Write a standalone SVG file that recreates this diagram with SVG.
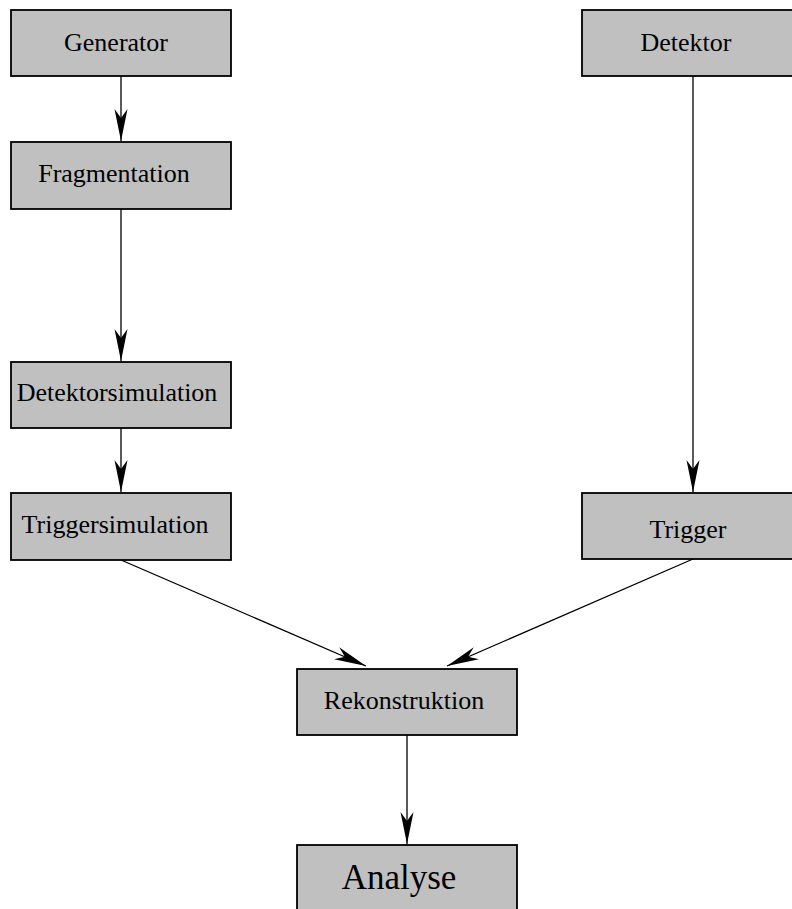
<svg xmlns="http://www.w3.org/2000/svg" width="792" height="909" viewBox="0 0 792 909">
<style>
.box{fill:#c0c0c0;stroke:#000;stroke-width:1.8}
.lbl{font-family:"Liberation Serif","Times New Roman",serif;font-size:26px;fill:#000;text-anchor:middle}
.big{font-size:35px}
.edge{stroke:#000;stroke-width:1.3;fill:none;marker-end:url(#ah)}
</style>
<defs>
<marker id="ah" markerUnits="userSpaceOnUse" markerWidth="34" markerHeight="16" refX="32" refY="8" orient="auto" overflow="visible">
<path d="M0,1.5 L32,8 L0,14.5 L9,8 Z" fill="#000"/>
</marker>
</defs>
<rect width="792" height="909" fill="#fff"/>
<g id="edges">
<line class="edge" x1="121" y1="76" x2="121" y2="141"/>
<line class="edge" x1="121" y1="209" x2="121" y2="361"/>
<line class="edge" x1="121" y1="428" x2="121" y2="492"/>
<line class="edge" x1="693" y1="76" x2="693" y2="492"/>
<line class="edge" x1="121" y1="560" x2="366" y2="666"/>
<line class="edge" x1="693" y1="559" x2="447" y2="666"/>
<line class="edge" x1="407" y1="735" x2="407" y2="844"/>
</g>
<g id="generator"><rect class="box" x="11" y="10" width="220" height="66"/><text class="lbl" x="116" y="51">Generator</text></g>
<g id="fragmentation"><rect class="box" x="11" y="142" width="220" height="67"/><text class="lbl" x="114" y="182">Fragmentation</text></g>
<g id="detektorsimulation"><rect class="box" x="11" y="362" width="220" height="66"/><text class="lbl" x="117" y="401">Detektorsimulation</text></g>
<g id="triggersimulation"><rect class="box" x="11" y="493" width="220" height="67"/><text class="lbl" x="115" y="533">Triggersimulation</text></g>
<g id="detektor"><rect class="box" x="582" y="10" width="222" height="66"/><text class="lbl" x="686" y="51">Detektor</text></g>
<g id="trigger"><rect class="box" x="582" y="493" width="222" height="66"/><text class="lbl" x="688" y="538">Trigger</text></g>
<g id="rekonstruktion"><rect class="box" x="297" y="669" width="220" height="66"/><text class="lbl" x="404" y="709">Rekonstruktion</text></g>
<g id="analyse"><rect class="box" x="297" y="845" width="220" height="80"/><text class="lbl big" x="399" y="889">Analyse</text></g>
</svg>
